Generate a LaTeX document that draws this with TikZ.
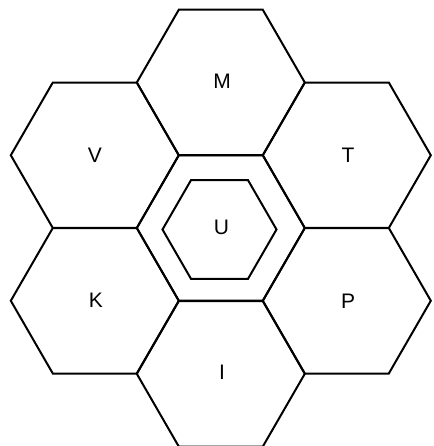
\documentclass[tikz,border=0pt]{standalone}
\usepackage{fontspec}
\setmainfont{Liberation Sans}
\tikzset{
  hexline/.style={line width=2pt, line join=miter, black},
  lbl/.style={inner sep=0pt, font=\fontsize{21}{24}\selectfont},
  hexa/.pic={\draw[hexline] (0:#1)--(60:#1)--(120:#1)--(180:#1)--(240:#1)--(300:#1)--cycle;}
}
\begin{document}
\begin{tikzpicture}[x=1pt,y=-1pt]
\useasboundingbox (0,0) rectangle (433,446);
\fill[white] (0,0) rectangle (433,446);
% centre and ring
\pic at (220.8,228) {hexa=84};
\pic at (220.8,82.5) {hexa=84};
\pic at (220.8,373.8) {hexa=84};
\pic at (94.8,155.25) {hexa=84};
\pic at (346.8,155.25) {hexa=84};
\pic at (94.8,300.75) {hexa=84};
\pic at (346.8,300.75) {hexa=84};
% inner hexagon
\pic at (219.5,229.5) {hexa=57};
% labels
\node[lbl] (M) at (222,81) {M};
\node[lbl] (V) at (95,155.5) {V};
\node[lbl] (T) at (348,155.5) {T};
\node[lbl] (U) at (221.5,227.5) {U};
\node[lbl] (K) at (96,300.5) {K};
\node[lbl] (P) at (348,301) {P};
\node[lbl] (I) at (222,372.5) {I};
\end{tikzpicture}
\end{document}
